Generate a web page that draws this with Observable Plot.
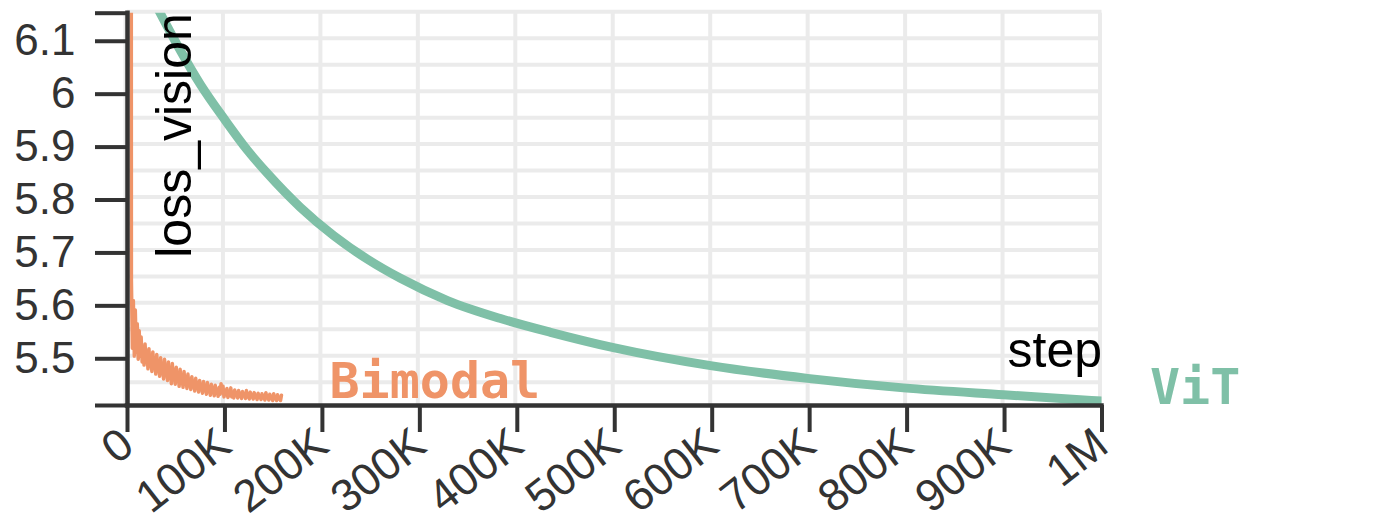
<!DOCTYPE html>
<html><head><meta charset="utf-8">
<script src="https://cdn.jsdelivr.net/npm/d3@7"></script>
<script src="https://cdn.jsdelivr.net/npm/@observablehq/plot@0.6"></script>
<style>body{margin:0;background:#fff;} svg{display:block}</style>
</head><body><div id="chart"></div>
<script>
// ---- data ----
const xTicks = [0, 100000, 200000, 300000, 400000, 500000, 600000, 700000, 800000, 900000, 1000000];
const xTickLabels = ["0", "100K", "200K", "300K", "400K", "500K", "600K", "700K", "800K", "900K", "1M"];
const yTicks = [5.5, 5.6, 5.7, 5.8, 5.9, 6, 6.1];
const yTickLabels = ["5.5", "5.6", "5.7", "5.8", "5.9", "6", "6.1"];
const yGrid = [5.45, 5.5, 5.55, 5.6, 5.65, 5.7, 5.75, 5.8, 5.85, 5.9, 5.95, 6, 6.05, 6.1, 6.15];
const xDomain = [0, 1000000];
const yDomain = [5.4117, 6.153];
const seriesNames = ["Bimodal", "ViT"];
const seriesColors = ["#ef9468", "#7fc0a7"];

// Bimodal: first logged point (off the top), then one value per 1K steps from 4K to 158K
const bimodalFirstStepK = 3.5;
const bimodalFirstLoss = 8.5;
const bimodalLoss = [
  5.650, 5.520, 5.610, 5.505, 5.592, 5.512, 5.566, 5.499, 5.553, 5.505,
  5.541, 5.494, 5.520, 5.488, 5.528, 5.497, 5.512, 5.481, 5.519, 5.486,
  5.505, 5.476, 5.513, 5.483, 5.498, 5.471, 5.508, 5.479, 5.489, 5.467,
  5.502, 5.472, 5.486, 5.462, 5.499, 5.470, 5.480, 5.459, 5.494, 5.465,
  5.476, 5.453, 5.491, 5.462, 5.470, 5.452, 5.484, 5.458, 5.468, 5.448,
  5.480, 5.455, 5.463, 5.446, 5.476, 5.452, 5.461, 5.444, 5.471, 5.449,
  5.458, 5.442, 5.466, 5.448, 5.455, 5.439, 5.463, 5.445, 5.452, 5.437,
  5.459, 5.443, 5.449, 5.435, 5.457, 5.440, 5.447, 5.433, 5.455, 5.438,
  5.444, 5.431, 5.452, 5.437, 5.442, 5.430, 5.450, 5.435, 5.440, 5.429,
  5.446, 5.433, 5.453, 5.436, 5.448, 5.428, 5.440, 5.432, 5.444, 5.427,
  5.437, 5.430, 5.445, 5.428, 5.436, 5.426, 5.441, 5.431, 5.434, 5.426,
  5.440, 5.429, 5.435, 5.425, 5.438, 5.430, 5.433, 5.425, 5.440, 5.428,
  5.433, 5.424, 5.437, 5.428, 5.432, 5.424, 5.436, 5.427, 5.431, 5.423,
  5.435, 5.427, 5.430, 5.423, 5.434, 5.426, 5.429, 5.422, 5.436, 5.426,
  5.429, 5.422, 5.433, 5.425, 5.428, 5.421, 5.434, 5.425, 5.428, 5.421,
  5.432, 5.424, 5.427, 5.421, 5.431
];
const bimodalStepK = [bimodalFirstStepK, ...d3.range(4, 4 + bimodalLoss.length)];

// ViT (step in thousands, loss)
const vitStepK = [28, 33.9, 54.4, 74.9, 100.5, 123.1, 143.7, 177.5, 211.4, 246.3, 280.1, 328.4, 382.8, 434.1, 498.7, 598.3, 697.8, 796.3, 898.9, 1000];
const vitLoss = [6.173, 6.152, 6.082, 6.018, 5.950, 5.894, 5.850, 5.786, 5.733, 5.688, 5.652, 5.610, 5.576, 5.550, 5.521, 5.487, 5.463, 5.445, 5.432, 5.420];

// ---- build ----
const bimodal = bimodalStepK.map((s, i) => ({step: s * 1000, loss: i === 0 ? bimodalFirstLoss : bimodalLoss[i - 1]}));
const vit = vitStepK.map((s, i) => ({step: s * 1000, loss: vitLoss[i]}));
const ends = [
  {name: seriesNames[0], color: seriesColors[0], ...bimodal[bimodal.length - 1]},
  {name: seriesNames[1], color: seriesColors[1], ...vit[vit.length - 1]}
];
const sans = "'Liberation Sans', Arial, Helvetica, sans-serif";
const mono = "'DejaVu Sans Mono', monospace";

const chart = Plot.plot({
  width: 1400, height: 525,
  marginLeft: 127, marginRight: 298.5, marginTop: 12.7, marginBottom: 120,
  style: {fontFamily: sans, color: "#333", background: "#fff", overflow: "visible"},
  x: {domain: xDomain},
  y: {domain: yDomain},
  marks: [
    Plot.ruleY(yGrid, {stroke: "#ebebeb", strokeWidth: 4, dy: -3}),
    Plot.ruleX(xTicks, {stroke: "#ebebeb", strokeWidth: 4, dx: -2}),
    Plot.line(bimodal, {x: "step", y: "loss", stroke: seriesColors[0], strokeWidth: 3.5, clip: true}),
    Plot.line(vit, {x: "step", y: "loss", stroke: seriesColors[1], strokeWidth: 9, curve: "monotone-x", clip: true}),
    Plot.axisY({ticks: yTicks, tickFormat: d => yTickLabels[yTicks.indexOf(d)], tickSize: 32, tickPadding: 20, fontSize: 44, strokeWidth: 4, label: null}),
    Plot.axisY({ticks: yDomain, tickFormat: () => "", tickSize: 32, strokeWidth: 4, label: null}),
    Plot.axisX({ticks: xTicks, tickFormat: d => xTickLabels[xTicks.indexOf(d)], tickSize: 27, tickPadding: 6, tickRotate: -38, fontSize: 45, strokeWidth: 4, label: null}),
    Plot.ruleX([xDomain[0]], {stroke: "#333", strokeWidth: 4.5, strokeLinecap: "square"}),
    Plot.ruleY([yDomain[0]], {stroke: "#333", strokeWidth: 4.5, strokeLinecap: "square"}),
    Plot.text(["loss_vision"], {frameAnchor: "top-left", dx: 28, rotate: -90, textAnchor: "end", fontSize: 50, fill: "black"}),
    Plot.text(["step"], {frameAnchor: "bottom-right", textAnchor: "end", dy: -39, fontSize: 50, fill: "black"}),
    Plot.text(ends, {x: "step", y: "loss", text: "name", fill: "color", textAnchor: "start", lineAnchor: "bottom", dx: 48, dy: 3, fontFamily: mono, fontWeight: "bold", fontSize: 50})
  ]
});
document.getElementById("chart").appendChild(chart);
</script>
</body></html>
